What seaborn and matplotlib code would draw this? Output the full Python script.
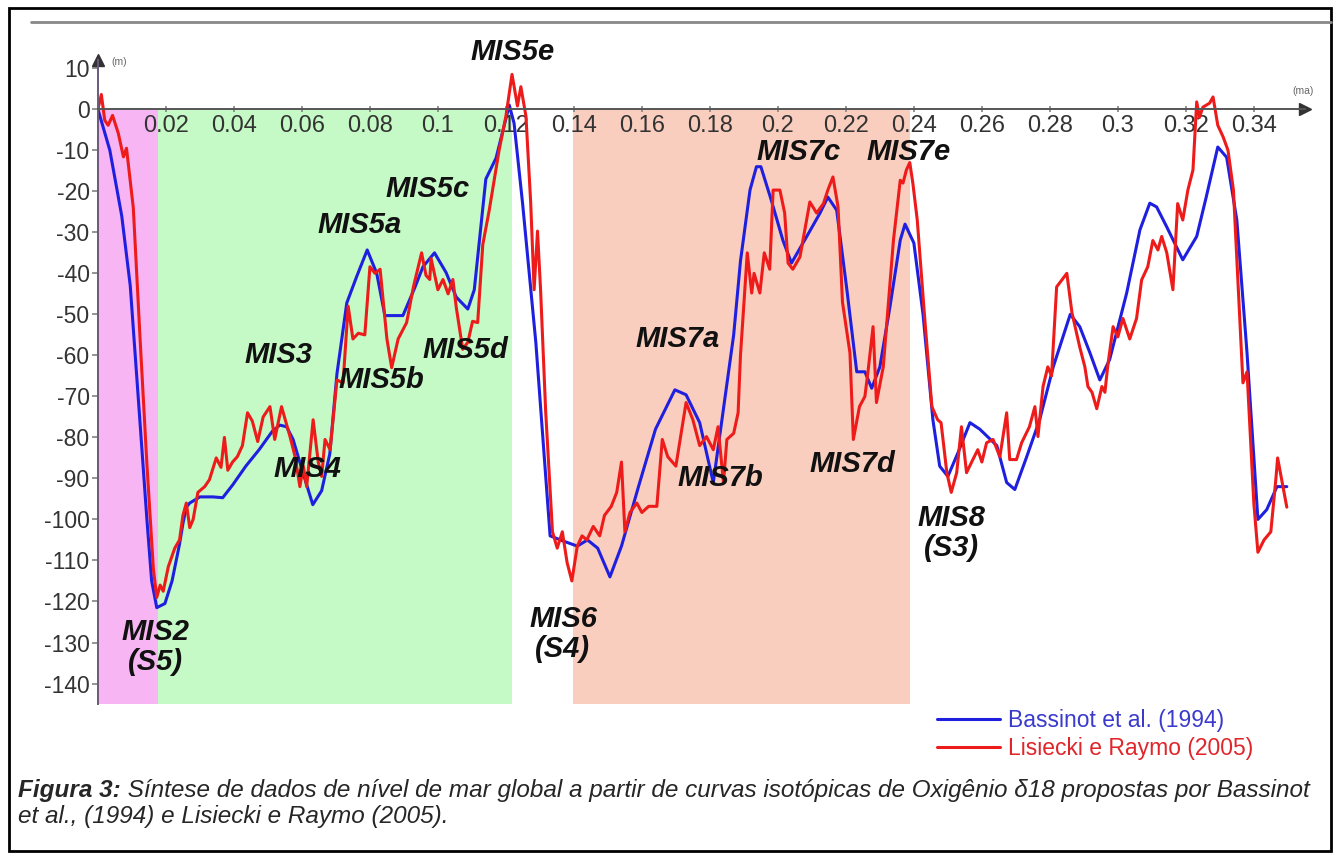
"""
Curvas de nivel de mar global (Bassinot 1994 / Lisiecki e Raymo 2005).
"""

import numpy as np
import pandas as pd
import matplotlib
matplotlib.use("Agg")
import matplotlib.pyplot as plt
from matplotlib.patches import Rectangle
from matplotlib.lines import Line2D
import seaborn as sns

# --- data (idade em ma, nivel em m) ---
bass_x = [0, 0.0035, 0.007, 0.0095, 0.012, 0.0144, 0.0158, 0.0173, 0.0197, 0.0218,
          0.024, 0.025, 0.026, 0.027, 0.030, 0.0338, 0.0367, 0.0397, 0.0435, 0.0474,
          0.0513, 0.0535, 0.0555, 0.0574, 0.0603, 0.0632, 0.0658, 0.0682, 0.0703, 0.0732,
          0.0761, 0.0792, 0.082, 0.0844, 0.0897, 0.0932, 0.0956, 0.099, 0.1024, 0.1054,
          0.1088, 0.1107, 0.1141, 0.1171, 0.121, 0.1224, 0.1249, 0.1288, 0.133, 0.137,
          0.141, 0.144, 0.147, 0.1506, 0.154, 0.159, 0.164, 0.1697, 0.173, 0.177,
          0.181, 0.1845, 0.187, 0.189, 0.1918, 0.1937, 0.195, 0.198, 0.2015, 0.204,
          0.2085, 0.2124, 0.2147, 0.2173, 0.2203, 0.2232, 0.2256, 0.2276, 0.23, 0.233,
          0.236, 0.2374, 0.24, 0.2427, 0.2456, 0.2476, 0.25, 0.253, 0.2565, 0.2594,
          0.2644, 0.2673, 0.2697, 0.2732, 0.277, 0.281, 0.286, 0.2888, 0.2918, 0.2947,
          0.2976, 0.3026, 0.3065, 0.3094, 0.3114, 0.3144, 0.3191, 0.3232, 0.326, 0.3294,
          0.332, 0.335, 0.338, 0.3412, 0.3438, 0.3468, 0.3497]
bass_y = [0, -10, -26, -43, -72, -100, -115, -121.5, -120.5, -115,
          -106, -101, -97, -96, -94.5, -94.5, -94.7, -91.5, -87, -83,
          -78.5, -77, -77.4, -80.5, -88.6, -96.4, -93, -84, -64.5, -47.2,
          -40.8, -34.3, -40, -50.3, -50.3, -43.5, -38.4, -35, -39.8, -45.8,
          -48.7, -44, -17, -11.9, 1, -3.4, -22.9, -56.8, -104, -105.3,
          -106.5, -105, -107, -114, -106.5, -92, -78, -68.4, -69.6, -76.4,
          -91, -70, -55, -37, -19.7, -14, -14, -22, -32, -37.5,
          -31, -25.3, -21.4, -24.6, -44, -64, -64, -68, -62.8, -48,
          -31.9, -28, -32.6, -50, -75.7, -87, -89.5, -83.7, -76.4, -78,
          -82, -91, -92.7, -84.7, -75.7, -62.8, -50, -53, -59.4, -66,
          -61, -44.8, -29.4, -22.9, -23.8, -28.7, -36.7, -31, -21.4, -9.2,
          -11.7, -27, -59.4, -100, -97.6, -92, -92]

lr_x = [0, 0.001, 0.002, 0.003, 0.0043, 0.006, 0.0075, 0.0084, 0.0104, 0.0124,
        0.0144, 0.0163, 0.0173, 0.0183, 0.0192, 0.0207, 0.0226, 0.024, 0.025, 0.026,
        0.027, 0.028, 0.0294, 0.0314, 0.0328, 0.0348, 0.0362, 0.0372, 0.0382, 0.0396,
        0.041, 0.0425, 0.044, 0.0454, 0.047, 0.0486, 0.0506, 0.052, 0.054, 0.0565,
        0.058, 0.0594, 0.0604, 0.0614, 0.0633, 0.0648, 0.0658, 0.0668, 0.0683, 0.0703,
        0.0721, 0.0736, 0.075, 0.0766, 0.0785, 0.08, 0.0815, 0.083, 0.085, 0.0864,
        0.0883, 0.0908, 0.0928, 0.0952, 0.0965, 0.0976, 0.098, 0.1, 0.1015, 0.103,
        0.1044, 0.1054, 0.1073, 0.1088, 0.1102, 0.1117, 0.1132, 0.1151, 0.118, 0.12,
        0.1218, 0.1234, 0.1244, 0.1259, 0.1273, 0.1283, 0.1293, 0.1302, 0.1317, 0.1337,
        0.1351, 0.1366, 0.138, 0.1394, 0.141, 0.1424, 0.1438, 0.1457, 0.1476, 0.149,
        0.151, 0.1526, 0.154, 0.155, 0.1565, 0.1585, 0.160, 0.162, 0.1644, 0.166,
        0.1676, 0.170, 0.173, 0.175, 0.177, 0.179, 0.181, 0.1824, 0.184, 0.185,
        0.187, 0.1883, 0.189, 0.191, 0.1923, 0.193, 0.1947, 0.196, 0.1976, 0.1986,
        0.2006, 0.202, 0.203, 0.2044, 0.2065, 0.2094, 0.2114, 0.2134, 0.2147, 0.2162,
        0.2177, 0.219, 0.2212, 0.2222, 0.224, 0.2256, 0.2265, 0.228, 0.229, 0.231,
        0.234, 0.236, 0.2368, 0.2378, 0.2388, 0.2397, 0.241, 0.2432, 0.2453, 0.247,
        0.248, 0.2497, 0.251, 0.2526, 0.254, 0.2555, 0.257, 0.2588, 0.26, 0.2614,
        0.2633, 0.2653, 0.2673, 0.2682, 0.2702, 0.2717, 0.274, 0.2756, 0.2765, 0.278,
        0.2794, 0.2805, 0.282, 0.285, 0.2865, 0.2888, 0.2903, 0.2912, 0.2924, 0.2938,
        0.2953, 0.2962, 0.297, 0.2986, 0.300, 0.3015, 0.3035, 0.3055, 0.307, 0.3088,
        0.3103, 0.3118, 0.3129, 0.3144, 0.3162, 0.3176, 0.3191, 0.3206, 0.3221, 0.3232,
        0.324, 0.325, 0.327, 0.328, 0.3294, 0.331, 0.3324, 0.334, 0.3368, 0.338,
        0.34, 0.3412, 0.343, 0.345, 0.3465, 0.347, 0.3497]
lr_y = [0, 3.6, -2.7, -3.9, -1.5, -5.9, -11.6, -9.5, -24, -56,
        -86.5, -112, -119, -116, -117.5, -111.5, -107, -105, -99, -96,
        -102, -100, -93.4, -92, -90.3, -85, -87.3, -80, -88, -86,
        -84.7, -82, -74, -76, -81, -75, -72.5, -80.5, -72.5, -79.8,
        -84.7, -92, -87, -92, -75.7, -86, -89.5, -80.5, -83, -66,
        -66.7, -48, -56, -54.6, -55, -38.4, -40, -39, -56, -63,
        -56, -52, -43.3, -35, -40.5, -41.5, -36.4, -44, -41.5, -45,
        -41.5, -48.3, -58.5, -56.8, -51.7, -52, -33, -24.6, -10, -1.7,
        8.5, 0.8, 5.5, -1.7, -22.9, -44, -29.7, -44, -73.7, -103,
        -107, -103, -110.5, -115, -106.5, -104, -105, -101.7, -104, -99,
        -96.8, -93.4, -86, -103, -98.3, -96, -98.3, -96.8, -96.8, -80.5,
        -84.7, -87, -71.5, -75.7, -82, -79.8, -83, -77.4, -91, -80.5,
        -79, -74, -60, -35, -44.8, -40, -44.8, -35, -39, -19.7,
        -19.7, -25.3, -37.5, -39, -36, -22.6, -25.3, -23, -19.7, -16.5,
        -23.8, -47, -59.4, -80.5, -72.5, -70, -64, -53, -71.5, -62.8,
        -31.9, -17.3, -18, -14.8, -13, -18, -27, -51, -72.5, -75.7,
        -76.4, -88.6, -93.4, -88.6, -77.4, -88.6, -86, -83, -86, -81.3,
        -80.5, -84.7, -74, -85.4, -85.4, -81.3, -77.4, -72.5, -79.8, -67.6,
        -62.8, -65, -43.3, -40, -49.6, -58, -62.8, -67.6, -69, -73,
        -67.6, -69, -62.8, -53, -55.5, -51, -56, -51, -41.6, -38.4,
        -32, -34.3, -31, -35, -44, -23, -27, -19.7, -14.8, 1.8,
        -2, 0.5, 1.5, 3, -3.9, -6.8, -10, -19.7, -66.7, -64,
        -96, -108, -105, -103, -90, -85, -97]

series_names = ["Bassinot et al. (1994)", "Lisiecki e Raymo (2005)"]
series_colors = ["#1f1fe0", "#ee1b1b"]
legend_text_colors = ["#3a3acc", "#e0262b"]

# estágios isotópicos (faixas sombreadas)
band_edges = [(0.0, 0.0176), (0.0176, 0.1218), (0.1397, 0.2388)]
band_colors = ["#f7b5f3", "#c5f9c5", "#facebf"]

mis_labels = ["MIS5e", "MIS5c", "MIS5a", "MIS3", "MIS5b", "MIS5d", "MIS4",
              "MIS2\n(S5)", "MIS6\n(S4)", "MIS7a", "MIS7b", "MIS7c", "MIS7e",
              "MIS7d", "MIS8\n(S3)"]
mis_x = [0.122, 0.097, 0.077, 0.053, 0.0835, 0.108, 0.0615,
         0.0168, 0.1368, 0.1706, 0.183, 0.206, 0.2385, 0.222, 0.251]
mis_y = [13.9, -19.5, -28.2, -60, -66, -58.6, -87.6,
         -131, -128, -56, -90, -10.5, -10.5, -86.4, -103.4]

x_ticks = [0.02, 0.04, 0.06, 0.08, 0.10, 0.12, 0.14, 0.16, 0.18, 0.20,
           0.22, 0.24, 0.26, 0.28, 0.30, 0.32, 0.34]
x_ticklabels = ["0.02", "0.04", "0.06", "0.08", "0.1", "0.12", "0.14", "0.16",
                "0.18", "0.2", "0.22", "0.24", "0.26", "0.28", "0.3", "0.32", "0.34"]
y_ticks = list(range(-140, 11, 10))

caption_bold = "Figura 3:"
caption_line1 = (" Síntese de dados de nível de mar global a partir de curvas isotópicas "
                 "de Oxigênio δ18 propostas por Bassinot")
caption_line2 = "et al., (1994) e Lisiecki e Raymo (2005)."

# --- plot ---
sns.set_theme(style="white")
plt.rcParams["font.family"] = ["Liberation Sans", "DejaVu Sans"]
plt.rcParams["axes.unicode_minus"] = False

df = pd.concat([
    pd.DataFrame({"idade": bass_x, "nivel": bass_y, "curva": series_names[0]}),
    pd.DataFrame({"idade": lr_x, "nivel": lr_y, "curva": series_names[1]}),
], ignore_index=True)

fig = plt.figure(figsize=(13.38, 8.59), dpi=100)
ax = fig.add_axes([0.0732, 0.1804, 0.902, 0.7497])
ax.set_xlim(0, 0.355)
ax.set_ylim(-145, 12)

for (x0, x1), c in zip(band_edges, band_colors):
    ax.fill_between([x0, x1], -145, 0, color=c, lw=0, zorder=0.2)

sns.lineplot(data=df, x="idade", y="nivel", hue="curva", hue_order=series_names,
             palette=dict(zip(series_names, series_colors)), estimator=None,
             sort=False, lw=2.2, ax=ax, zorder=2)

# eixos no estilo "cruz"
ax.set_axisbelow(True)
for s in ["top", "right"]:
    ax.spines[s].set_visible(False)
ax.spines["bottom"].set_position(("data", 0))
ax.spines["bottom"].set_color("#555555")
ax.spines["left"].set_color("#6a5a7a")
ax.spines["bottom"].set_linewidth(1.4)
ax.spines["left"].set_linewidth(1.4)
ax.plot(1, 0, ">", color="#333333", ms=8, transform=ax.get_yaxis_transform(), clip_on=False)
ax.plot(0, 1, "^", color="#333333", ms=8, transform=ax.get_xaxis_transform(), clip_on=False)

ax.set_xticks(x_ticks)
ax.set_xticklabels(x_ticklabels)
ax.set_yticks(y_ticks)
ax.tick_params(axis="x", direction="inout", length=4, color="#888888",
               labelsize=17, labelcolor="#333333", pad=2, bottom=True)
ax.tick_params(axis="y", direction="out", length=4, color="#888888",
               labelsize=16.5, labelcolor="#333333", pad=2, left=True)
ax.set_xlabel("")
ax.set_ylabel("")
ax.text(0.004, 11.5, "(m)", fontsize=7.5, color="#666666", va="center")
ax.text(0.3545, 4.5, "(ma)", fontsize=7.5, color="#666666", ha="center", va="center")

for lab, x, y in zip(mis_labels, mis_x, mis_y):
    ax.text(x, y, lab, ha="center", va="center", fontsize=21, fontweight="bold",
            fontstyle="italic", color="#111111", linespacing=1.1)

# legenda
handles, labels = ax.get_legend_handles_labels()
leg = ax.legend(handles, labels, loc="upper left", bbox_to_anchor=(0.7003, 0.1745),
                bbox_transform=fig.transFigure, frameon=False, fontsize=16.5,
                handlelength=2.75, handletextpad=0.35, labelspacing=0.2,
                borderpad=0, borderaxespad=0)
for t, c in zip(leg.get_texts(), legend_text_colors):
    t.set_color(c)

# legenda da figura
t1 = fig.text(18 / 1338, 1 - 791 / 859, caption_bold, fontsize=17.5, fontweight="bold",
              fontstyle="italic", va="center", ha="left")
ax.annotate(caption_line1, xy=(1, 0.5), xycoords=t1, va="center", ha="left",
            fontsize=17.5, fontstyle="italic", annotation_clip=False)
fig.text(18 / 1338, 1 - 816 / 859, caption_line2, fontsize=17.5, fontstyle="italic",
         va="center", ha="left")

# moldura e linha superior
fig.patches.append(Rectangle((9 / 1338, 8 / 859), 1322 / 1338, 843 / 859,
                             transform=fig.transFigure, fill=False, ec="black", lw=2))
fig.lines.append(Line2D([31 / 1338, 1331 / 1338], [1 - 22 / 859] * 2,
                        transform=fig.transFigure, color="#888888", lw=2))

fig.savefig("out.png", dpi=100)
plt.close(fig)
